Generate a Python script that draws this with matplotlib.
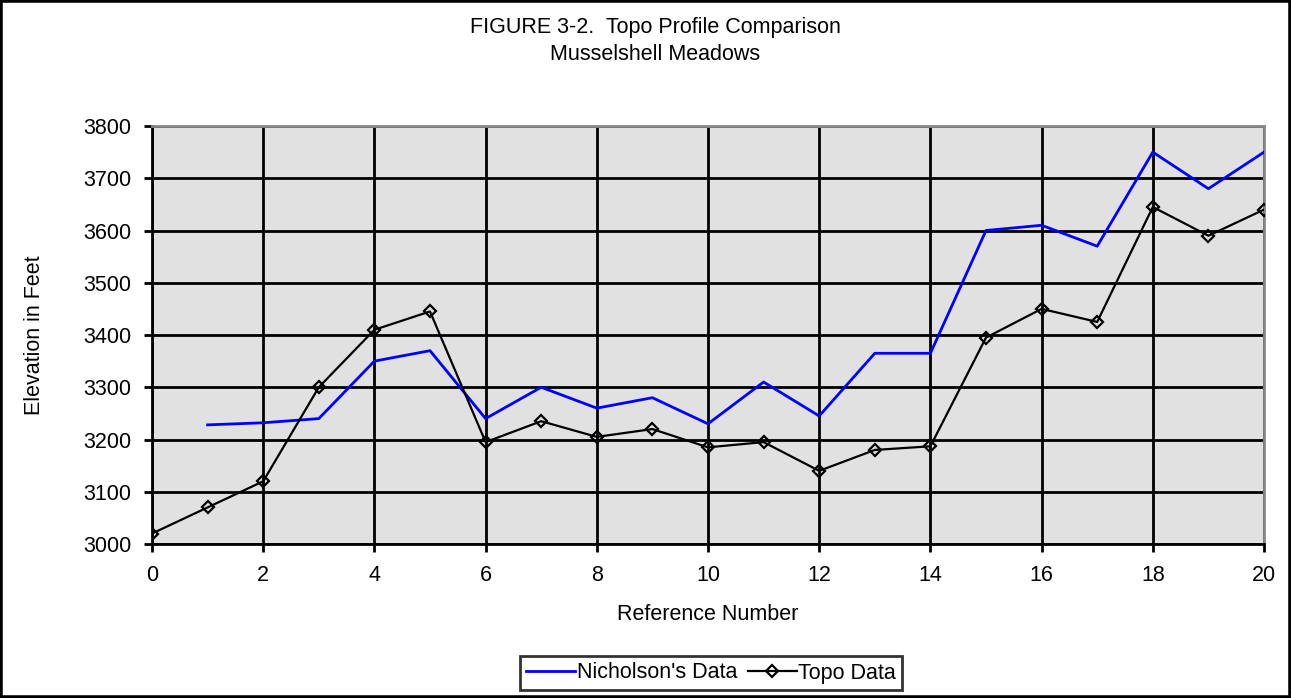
import matplotlib
matplotlib.use('Agg')
import matplotlib.pyplot as plt
import matplotlib.patches as patches

plt.rcParams['font.family'] = ['Liberation Sans', 'DejaVu Sans']

# Reference numbers and elevations (feet)
nicholson_x = list(range(1, 21))
nicholson_elev = [3228, 3232, 3240, 3350, 3370, 3240, 3300, 3260, 3280, 3230,
                  3310, 3245, 3365, 3365, 3600, 3610, 3570, 3750, 3680, 3750]

topo_x = list(range(0, 21))
topo_elev = [3020, 3070, 3120, 3300, 3410, 3445, 3195, 3235, 3205, 3220, 3185,
             3195, 3140, 3180, 3187, 3395, 3450, 3425, 3645, 3590, 3640]

x_ticks = list(range(0, 21, 2))
y_ticks = list(range(3000, 3801, 100))

FS = 15.5

fig = plt.figure(figsize=(12.91, 6.98), dpi=100)
ax = fig.add_axes([152 / 1291, 1 - 544 / 698, (1264 - 152) / 1291, (544 - 126) / 698])

ax.set_facecolor('#e1e1e1')
ax.plot(nicholson_x, nicholson_elev, color='#0000ff', lw=2, label="Nicholson's Data", zorder=3)
ax.plot(topo_x, topo_elev, color='black', lw=1.6, marker='D', markersize=6.5,
        markerfacecolor='none', markeredgecolor='black', markeredgewidth=1.6,
        label='Topo Data', zorder=4)

ax.set_xlim(0, 20)
ax.set_ylim(3000, 3800)
ax.set_xticks(x_ticks)
ax.set_yticks(y_ticks)
ax.grid(True, color='black', lw=2)
ax.set_axisbelow(True)
ax.tick_params(axis='x', labelsize=FS, length=6, width=2, pad=9)
ax.tick_params(axis='y', labelsize=FS, length=6, width=2, pad=9)
for s in ['top', 'right']:
    ax.spines[s].set_color('#888888')
    ax.spines[s].set_linewidth(2)
for s in ['left', 'bottom']:
    ax.spines[s].set_color('black')
    ax.spines[s].set_linewidth(2)

ax.set_xlabel('Reference Number', fontsize=FS, labelpad=13)
ax.set_ylabel('Elevation in Feet', fontsize=FS, labelpad=27)

fig.text(655 / 1291, 1 - 27 / 698, 'FIGURE 3-2.  Topo Profile Comparison', ha='center', va='center', fontsize=FS)
fig.text(655 / 1291, 1 - 55 / 698, 'Musselshell Meadows', ha='center', va='center', fontsize=FS)

leg = fig.legend(loc='center', bbox_to_anchor=(711 / 1291, 1 - 673 / 698), ncol=2,
                 fontsize=FS, frameon=True, fancybox=False, handlelength=2.3,
                 handletextpad=0.05, columnspacing=0.5, borderpad=0.3,
                 borderaxespad=0)
leg.get_frame().set_edgecolor('black')
leg.get_frame().set_linewidth(2)

# outer frame of the chart
fig.add_artist(patches.Rectangle((0, 0), 1, 1, transform=fig.transFigure,
                                 fill=False, edgecolor='black', lw=4))

fig.savefig('out.png', dpi=100)
